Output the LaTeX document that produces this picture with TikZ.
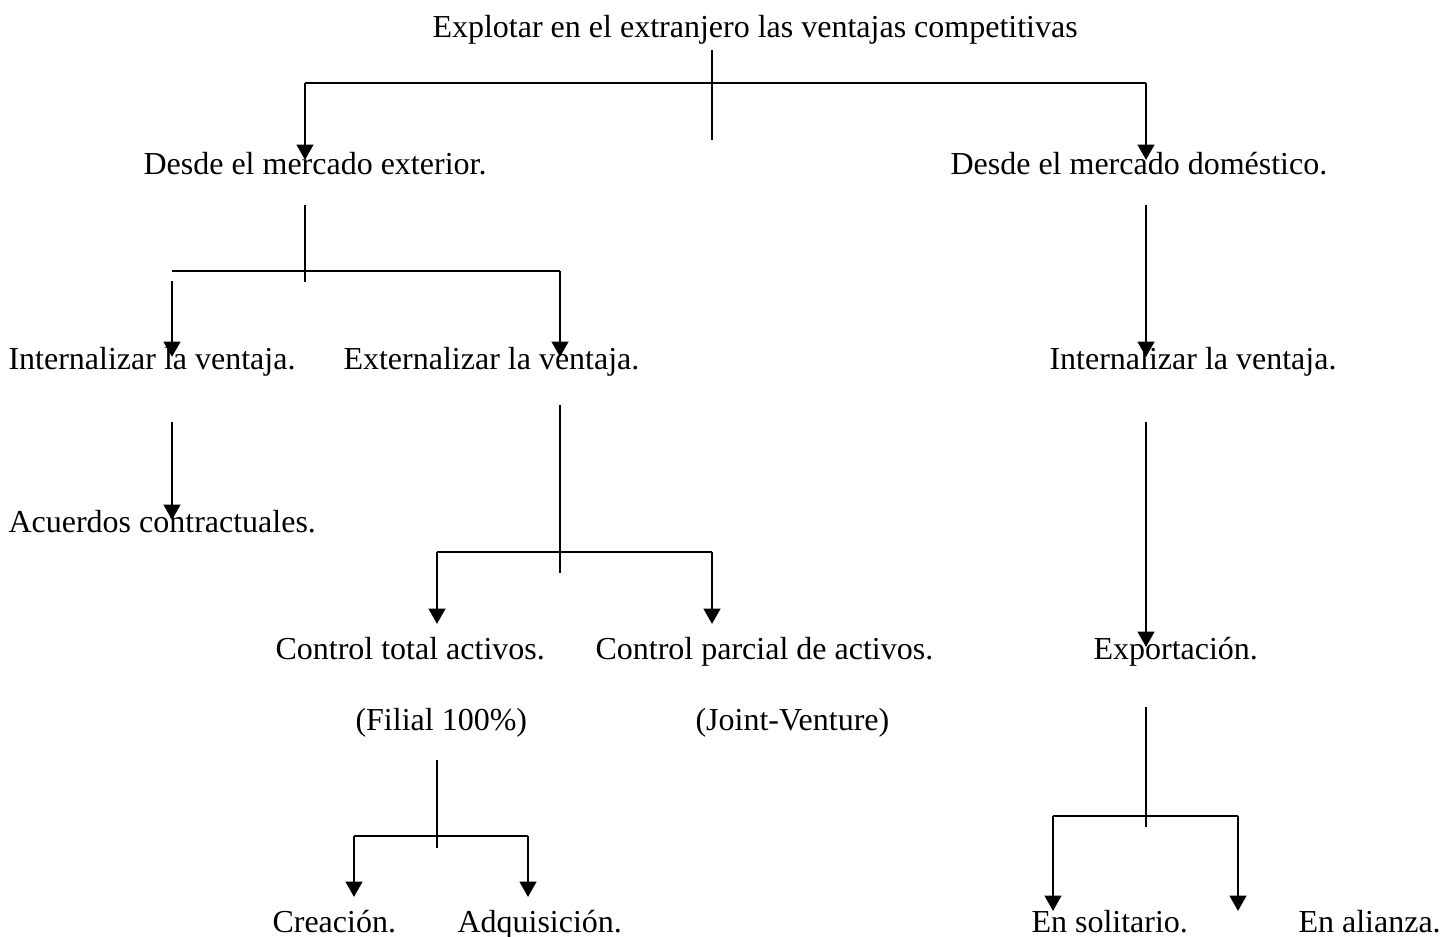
\documentclass[tikz,border=0pt]{standalone}
\usepackage{fontspec}
\setmainfont{Liberation Serif}
\usetikzlibrary{arrows.meta}

\begin{document}
\begin{tikzpicture}[x=0.375pt,y=-0.375pt,
  texto/.style={anchor=base west,inner sep=0pt,font=\fontsize{12}{14}\selectfont},
  linea/.style={line width=0.75pt},
  flecha/.style={line width=1.1pt,-{Triangle[width=6.2pt,length=5.8pt]}}]
  \useasboundingbox (0,0) rectangle (1456,937);
  % textos
  \node[texto] (titulo) at (432,38) {Explotar en el extranjero las ventajas competitivas};
  \node[texto] (exterior) at (143,175) {Desde el mercado exterior.};
  \node[texto] (domestico) at (950,175) {Desde el mercado doméstico.};
  \node[texto] (intext) at (8,370) {Internalizar la ventaja.};
  \node[texto] (externa) at (343,370) {Externalizar la ventaja.};
  \node[texto] (intdom) at (1049,370) {Internalizar la ventaja.};
  \node[texto] (acuerdos) at (8,532) {Acuerdos contractuales.};
  \node[texto] (total) at (275,659) {Control total activos.};
  \node[texto] (parcial) at (595,659) {Control parcial de activos.};
  \node[texto] (exportacion) at (1093,659) {Exportación.};
  \node[texto] (filial) at (355,730) {(Filial 100\%)};
  \node[texto] (joint) at (695,730) {(Joint-Venture)};
  \node[texto] (creacion) at (272,932) {Creación.};
  \node[texto] (adquisicion) at (457,932) {Adquisición.};
  \node[texto] (solitario) at (1031,932) {En solitario.};
  \node[texto] (alianza) at (1298,932) {En alianza.};
  % puntos de las lineas
  \coordinate (t0) at (712,50);   \coordinate (t1) at (712,140);
  \coordinate (ta) at (305,83);   \coordinate (tb) at (1146,83);
  \coordinate (tA) at (305,160);  \coordinate (tB) at (1146,160);
  \coordinate (e0) at (305,205);  \coordinate (e1) at (305,282);
  \coordinate (ea) at (172,271);  \coordinate (eb) at (560,271);
  \coordinate (ea1) at (172,281);
  \coordinate (eA) at (172,357);  \coordinate (eB) at (560,357);
  \coordinate (i0) at (172,422);  \coordinate (i1) at (172,520);
  \coordinate (x0) at (560,405);  \coordinate (x1) at (560,573);
  \coordinate (xa) at (437,552);  \coordinate (xb) at (712,552);
  \coordinate (xA) at (437,624);  \coordinate (xB) at (712,624);
  \coordinate (f0) at (437,760);  \coordinate (f1) at (437,848);
  \coordinate (fa) at (354,836);  \coordinate (fb) at (528,836);
  \coordinate (fA) at (354,897);  \coordinate (fB) at (528,897);
  \coordinate (d0) at (1146,205); \coordinate (d1) at (1146,357);
  \coordinate (p0) at (1146,422); \coordinate (p1) at (1146,647);
  \coordinate (s0) at (1146,707); \coordinate (s1) at (1146,827);
  \coordinate (sa) at (1053,816); \coordinate (sb) at (1238,816);
  \coordinate (sA) at (1053,911); \coordinate (sB) at (1238,911);
  % primer nivel
  \draw[linea] (t0) -- (t1);
  \draw[linea] (ta) -- (tb);
  \draw[flecha] (ta) -- (tA);
  \draw[flecha] (tb) -- (tB);
  % mercado exterior
  \draw[linea] (e0) -- (e1);
  \draw[linea] (ea) -- (eb);
  \draw[flecha] (ea1) -- (eA);
  \draw[flecha] (eb) -- (eB);
  \draw[flecha] (i0) -- (i1);
  \draw[linea] (x0) -- (x1);
  \draw[linea] (xa) -- (xb);
  \draw[flecha] (xa) -- (xA);
  \draw[flecha] (xb) -- (xB);
  \draw[linea] (f0) -- (f1);
  \draw[linea] (fa) -- (fb);
  \draw[flecha] (fa) -- (fA);
  \draw[flecha] (fb) -- (fB);
  % mercado domestico
  \draw[flecha] (d0) -- (d1);
  \draw[flecha] (p0) -- (p1);
  \draw[linea] (s0) -- (s1);
  \draw[linea] (sa) -- (sb);
  \draw[flecha] (sa) -- (sA);
  \draw[flecha] (sb) -- (sB);
\end{tikzpicture}
\end{document}
